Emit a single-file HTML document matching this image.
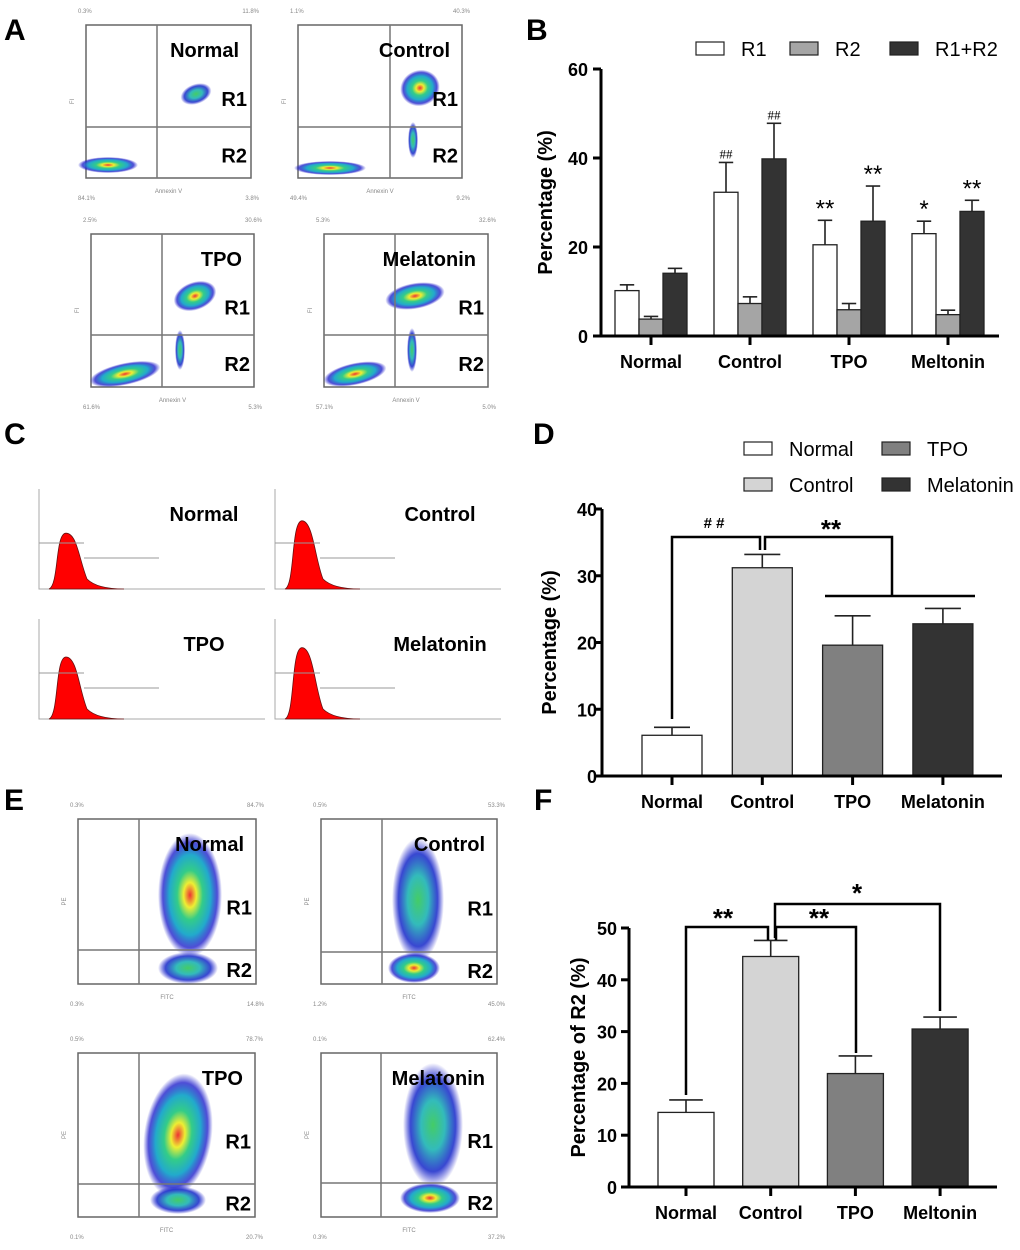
<!DOCTYPE html>
<html><head><meta charset="utf-8">
<style>
html,body{margin:0;padding:0;background:#fff;}
svg{display:block;font-family:"Liberation Sans",Arial,sans-serif;}
.pl{font-weight:bold;font-size:30px;}
.lb{font-weight:bold;font-size:20px;}
.tk{font-weight:bold;font-size:18px;}
.sm{font-size:6px;fill:#888;}
</style></head>
<body>
<svg id="fig" width="1020" height="1250" viewBox="0 0 1020 1250" xmlns="http://www.w3.org/2000/svg">
<defs>
<radialGradient id="cloud" cx="50%" cy="50%" r="50%">
<stop offset="0" stop-color="#e33"/><stop offset="0.2" stop-color="#ee3"/><stop offset="0.4" stop-color="#3c8"/><stop offset="0.65" stop-color="#2ac"/><stop offset="0.85" stop-color="#22c" stop-opacity="0.8"/><stop offset="1" stop-color="#22c" stop-opacity="0"/>
</radialGradient>
<radialGradient id="cloudg" cx="50%" cy="50%" r="50%">
<stop offset="0" stop-color="#4c6"/><stop offset="0.4" stop-color="#3bb"/><stop offset="0.75" stop-color="#23c" stop-opacity="0.9"/><stop offset="1" stop-color="#22c" stop-opacity="0"/>
</radialGradient>
</defs>

<text class="pl" x="4" y="40">A</text>
<text class="pl" x="526" y="40">B</text>
<text class="pl" x="4" y="444">C</text>
<text class="pl" x="533" y="444">D</text>
<text class="pl" x="4" y="810">E</text>
<text class="pl" x="534" y="810">F</text>

<g id="flowA"></g>
<g id="histC"></g>
<g id="flowE"></g>
<g id="chartB"></g>
<g id="chartD"></g>
<g id="chartF"></g>
</svg>
<script>
// ---- Panel B data ----
const bCategories = ["Normal","Control","TPO","Meltonin"];
const bSeriesNames = ["R1","R2","R1+R2"];
const bR1 = [10.2,32.3,20.5,23.0];
const bR1Err = [1.3,6.7,5.5,2.8];
const bR2 = [3.8,7.3,5.9,4.8];
const bR2Err = [0.6,1.5,1.4,1.0];
const bR12 = [14.1,39.8,25.8,28.0];
const bR12Err = [1.1,8.0,7.9,2.5];
const bTicks = [0,20,40,60];
const bR1Marks = ["","##","**","*"];
const bR12Marks = ["","##","**","**"];
// ---- Panel D data ----
const dCategories = ["Normal","Control","TPO","Melatonin"];
const dValues = [6.1,31.2,19.6,22.8];
const dErr = [1.2,2.0,4.4,2.3];
const dTicks = [0,10,20,30,40];
// ---- Panel F data ----
const fCategories = ["Normal","Control","TPO","Meltonin"];
const fValues = [14.4,44.5,21.9,30.5];
const fErr = [2.4,3.1,3.4,2.3];
const fTicks = [0,10,20,30,40,50];

const NS="http://www.w3.org/2000/svg";
function mk(parent,tag,attrs,text){const e=document.createElementNS(NS,tag);for(const k in attrs)e.setAttribute(k,attrs[k]);if(text!==undefined)e.textContent=text;parent.appendChild(e);return e;}

function axes(g,x0,xEnd,yOf,ticks,cats,catX,titleTxt,titleX,lblOff){
  let e;
  e=mk(g,"line",{x1:x0,y1:yOf(ticks[ticks.length-1]),x2:x0,y2:yOf(0)+1.5,stroke:"#000","stroke-width":3});
  
  
  e=mk(g,"line",{x1:x0-8,y1:yOf(0),x2:xEnd,y2:yOf(0),stroke:"#000","stroke-width":3});
  
  
  ticks.forEach(t=>{
    e=mk(g,"line",{x1:x0-8,y1:yOf(t),x2:x0,y2:yOf(t),stroke:"#000","stroke-width":3});
    
    
    e=mk(g,"text",{x:x0-lblOff,y:yOf(t)+7,"text-anchor":"end",class:"tk"},String(t));
    
    
  });
  cats.forEach((c,i)=>{
    e=mk(g,"line",{x1:catX(i),y1:yOf(0),x2:catX(i),y2:yOf(0)+9,stroke:"#000","stroke-width":3});
    
    
    e=mk(g,"text",{x:catX(i),y:yOf(0)+32,"text-anchor":"middle",class:"tk"},c);
    
    
  });
  const cy=(yOf(0)+yOf(ticks[ticks.length-1]))/2;
  e=mk(g,"text",{x:titleX,y:cy,transform:`rotate(-90 ${titleX} ${cy})`,"text-anchor":"middle",class:"lb"},titleTxt);
  
  
}
function bar(g,x,w,v,err,yOf,fill){
  let e=mk(g,"line",{x1:x+w/2,y1:yOf(v),x2:x+w/2,y2:yOf(v+err),stroke:"#222","stroke-width":1.6});
  
  
  e=mk(g,"line",{x1:x+w/2-w*0.3,y1:yOf(v+err),x2:x+w/2+w*0.3,y2:yOf(v+err),stroke:"#222","stroke-width":1.6});
  
  
  e=mk(g,"rect",{x:x,y:yOf(v),width:w,height:yOf(0)-yOf(v),fill:fill,stroke:"#222","stroke-width":1.3});
  
  
  return e;
}

// ---- Chart B ----
(function(){
  const g=document.getElementById("chartB");
  const y0=336,yTop=69,maxV=60;
  const yOf=v=>y0-(v/maxV)*(y0-yTop);
  const catX=i=>651+i*99;
  const w=24, fills=["#fff","#a5a5a5","#333"];
  const vals=[bR1,bR2,bR12], errs=[bR1Err,bR2Err,bR12Err];
  bCategories.forEach((c,i)=>{
    for(let s=0;s<3;s++){
      const x=catX(i)-w*1.5+s*w;
      bar(g,x,w,vals[s][i],errs[s][i],yOf,fills[s]);
    }
    const m1=bR1Marks[i], m2=bR12Marks[i];
    let e;
    if(m1){e=mk(g,"text",{x:catX(i)-w,y:yOf(bR1[i]+bR1Err[i])-4,"text-anchor":"middle","font-size":m1[0]=="#"?13:24,"font-family":m1[0]=="#"?"Liberation Serif, serif":"Liberation Sans, sans-serif"},m1);
      
      }
    if(m2){e=mk(g,"text",{x:catX(i)+w,y:yOf(bR12[i]+bR12Err[i])-4,"text-anchor":"middle","font-size":m2[0]=="#"?13:24,"font-family":m2[0]=="#"?"Liberation Serif, serif":"Liberation Sans, sans-serif"},m2);
      
      }
  });
  axes(g,601,999,yOf,bTicks,bCategories,catX,"Percentage (%)",552,13);
  const lx=[696,790,890];
  bSeriesNames.forEach((n,s)=>{
    let e=mk(g,"rect",{x:lx[s],y:42,width:28,height:13,fill:fills[s],stroke:"#222","stroke-width":1.2});
    
    
    e=mk(g,"text",{x:lx[s]+45,y:56,"font-size":20},n);
    
    
  });
})();

// ---- Chart D ----
(function(){
  const g=document.getElementById("chartD");
  const y0=776,yTop=509,maxV=40;
  const yOf=v=>y0-(v/maxV)*(y0-yTop);
  const catX=i=>672+i*90.3;
  const w=60, fills=["#fff","#d4d4d4","#808080","#333"];
  dValues.forEach((v,i)=>bar(g,catX(i)-w/2,w,v,dErr[i],yOf,fills[i]));
  axes(g,602,1002,yOf,dTicks,dCategories,catX,"Percentage (%)",556,5);
  let e=mk(g,"path",{d:"M672 719 V537 H760 V550",fill:"none",stroke:"#000","stroke-width":2.5});
  
  
  e=mk(g,"path",{d:"M765 550 V537 H892 V596 M825 596 H975",fill:"none",stroke:"#000","stroke-width":2.5});
  
  
  e=mk(g,"text",{x:714,y:528,"text-anchor":"middle","font-size":15,"font-weight":"bold"},"# #");
  
  
  e=mk(g,"text",{x:831,y:538,"text-anchor":"middle","font-size":26,"font-weight":"bold"},"**");
  
  
  const lg=[[744,442,"Normal"],[744,478,"Control"],[882,442,"TPO"],[882,478,"Melatonin"]];
  lg.forEach((l,i)=>{
    e=mk(g,"rect",{x:l[0],y:l[1],width:28,height:13,fill:fills[i],stroke:"#222","stroke-width":1.2});
    
    
    e=mk(g,"text",{x:l[0]+45,y:l[1]+14,"font-size":20},l[2]);
    
    
  });
})();

// ---- Chart F ----
(function(){
  const g=document.getElementById("chartF");
  const y0=1187,yTop=928,maxV=50;
  const yOf=v=>y0-(v/maxV)*(y0-yTop);
  const catX=i=>686+i*84.7;
  const w=56, fills=["#fff","#d4d4d4","#808080","#333"];
  fValues.forEach((v,i)=>bar(g,catX(i)-w/2,w,v,fErr[i],yOf,fills[i]));
  axes(g,629,997,yOf,fTicks,fCategories,catX,"Percentage of R2 (%)",585,12);
  let e=mk(g,"path",{d:"M686 1095 V927 H768 V940",fill:"none",stroke:"#000","stroke-width":2.5});
  
  
  e=mk(g,"path",{d:"M776 940 V927 H856 V1053",fill:"none",stroke:"#000","stroke-width":2.5});
  
  
  e=mk(g,"path",{d:"M775 938 V904 H940 V1011",fill:"none",stroke:"#000","stroke-width":2.5});
  
  
  [[723,927,"**"],[819,927,"**"],[857,902,"*"]].forEach(s=>{
    e=mk(g,"text",{x:s[0],y:s[1],"text-anchor":"middle","font-size":26,"font-weight":"bold"},s[2]);
    
    
  });
})();

// ---- Flow plots (decorative images) ----
function flow(g,box,vx,hy,name,clouds,pcts,xlab,ylab){
  const [x1,y1,x2,y2]=box;
  let e=mk(g,"rect",{x:x1,y:y1,width:x2-x1,height:y2-y1,fill:"#fff",stroke:"#666","stroke-width":1.5});
  
  
  clouds.forEach(c=>{
    e=mk(g,"ellipse",{cx:c[0],cy:c[1],rx:c[2],ry:c[3],fill:c[4]?"url(#cloud)":"url(#cloudg)",transform:`rotate(${c[5]||0} ${c[0]} ${c[1]})`});
    
    
  });
  e=mk(g,"line",{x1:vx,y1:y1,x2:vx,y2:y2,stroke:"#777","stroke-width":1.5});
  
  
  e=mk(g,"line",{x1:x1,y1:hy,x2:x2,y2:hy,stroke:"#777","stroke-width":1.5});
  
  
  e=mk(g,"text",{x:x2-12,y:y1+32,"text-anchor":"end",class:"lb"},name);
  
  
  e=mk(g,"text",{x:x2-4,y:(y1+hy)/2+30,"text-anchor":"end",class:"lb"},"R1");
  
  
  e=mk(g,"text",{x:x2-4,y:hy+(y2-hy)/2+10,"text-anchor":"end",class:"lb"},"R2");
  
  
  [[x1-8,y1-12,"start",pcts[0]],[x2+8,y1-12,"end",pcts[1]],[x1-8,y2+22,"start",pcts[2]],[x2+8,y2+22,"end",pcts[3]]].forEach(p=>{
    e=mk(g,"text",{x:p[0],y:p[1],"text-anchor":p[2],class:"sm"},p[3]);
    
    
  });
  e=mk(g,"text",{x:(x1+x2)/2,y:y2+15,"text-anchor":"middle",class:"sm"},xlab);
  
  
  e=mk(g,"text",{x:x1-12,y:(y1+y2)/2,"text-anchor":"middle",class:"sm",transform:`rotate(-90 ${x1-12} ${(y1+y2)/2})`},ylab);
  
  
}
(function(){
  const g=document.getElementById("flowA");
  flow(g,[86,25,251,178],157,127,"Normal",[[108,165,30,8,1],[196,94,16,10,0,-20]],["0.3%","11.8%","84.1%","3.8%"],"Annexin V","FI");
  flow(g,[298,25,462,178],390,127,"Control",[[330,168,36,7,1],[420,88,20,18,1,-20],[413,140,5,18,0]],["1.1%","40.3%","49.4%","9.2%"],"Annexin V","FI");
  flow(g,[91,234,254,387],162,335,"TPO",[[125,374,36,11,1,-12],[195,296,22,14,1,-20],[180,350,5,20,0]],["2.5%","30.6%","61.6%","5.3%"],"Annexin V","FI");
  flow(g,[324,234,488,387],395,335,"Melatonin",[[355,374,32,11,1,-12],[415,296,30,13,1,-10],[412,350,5,22,0]],["5.3%","32.6%","57.1%","5.0%"],"Annexin V","FI");
})();
(function(){
  const g=document.getElementById("flowE");
  flow(g,[78,819,256,984],139,950,"Normal",[[190,895,32,62,1],[188,968,30,16,0]],["0.3%","84.7%","0.3%","14.8%"],"FITC","PE");
  flow(g,[321,819,497,984],382,952,"Control",[[418,900,26,62,0],[414,968,26,15,1]],["0.5%","53.3%","1.2%","45.0%"],"FITC","PE");
  flow(g,[78,1053,255,1217],139,1184,"TPO",[[178,1135,34,62,1,8],[178,1200,28,14,0]],["0.5%","78.7%","0.1%","20.7%"],"FITC","PE");
  flow(g,[321,1053,497,1217],381,1183,"Melatonin",[[433,1125,30,62,0],[430,1198,30,15,1]],["0.1%","62.4%","0.3%","37.2%"],"FITC","PE");
})();
// ---- Histograms (decorative) ----
(function(){
  const g=document.getElementById("histC");
  const hs=[[39,589,"Normal",0.9],[275,589,"Control",1.1],[39,719,"TPO",1.0],[275,719,"Melatonin",1.15]];
  hs.forEach(h=>{
    const [x0,y0,name,sc]=h;
    let e=mk(g,"path",{d:`M${x0} ${y0-100} V${y0} H${x0+226}`,fill:"none",stroke:"#aaa","stroke-width":1});
    
    
    const pk=x0+30, top=y0-62*sc;
    e=mk(g,"path",{d:`M${x0+10} ${y0} C${pk-10} ${y0-4} ${pk-14} ${top} ${pk-3} ${top} C${pk+8} ${top} ${pk+10} ${y0-30} ${pk+18} ${y0-10} C${pk+26} ${y0-2} ${pk+40} ${y0} ${pk+55} ${y0} Z`,fill:"#f00",stroke:"#611","stroke-width":0.8});
    
    
    e=mk(g,"line",{x1:x0,y1:y0-46,x2:x0+45,y2:y0-46,stroke:"#999","stroke-width":1});
    
    
    e=mk(g,"line",{x1:x0+45,y1:y0-31,x2:x0+120,y2:y0-31,stroke:"#999","stroke-width":1});
    
    
    e=mk(g,"text",{x:x0+165,y:y0-68,"text-anchor":"middle",class:"lb"},name);
    
    
  });
})();
</script>
</body></html>
